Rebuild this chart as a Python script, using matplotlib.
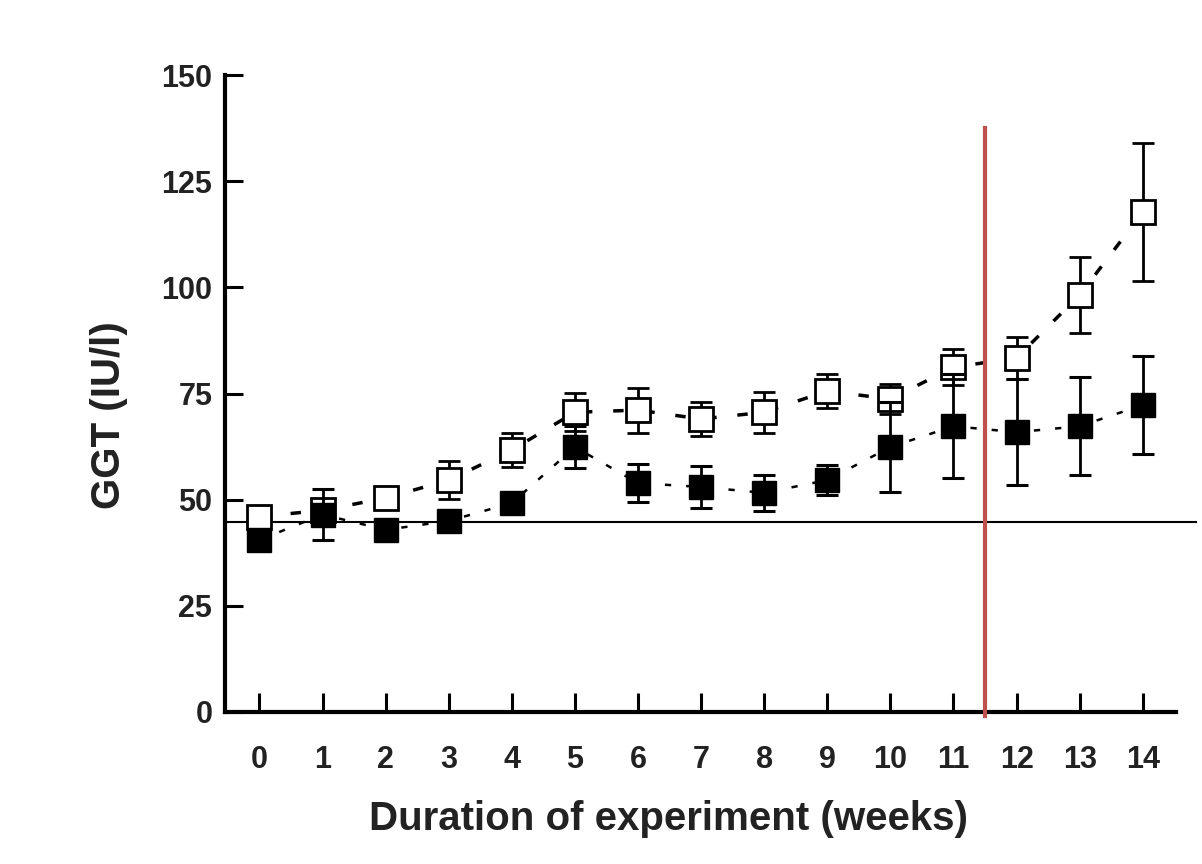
import matplotlib.pyplot as plt

plt.rcParams['font.family'] = ['Liberation Sans', 'DejaVu Sans']

weeks = list(range(15))
open_mean = [46, 47.5, 50.4, 54.6, 61.7, 70.6, 71.1, 69, 70.6, 75.6, 73.7, 81.2, 83.4, 98.2, 117.7]
open_err = [1.5, 2, 2, 4.5, 4, 4.5, 5.3, 4, 4.8, 4, 3.5, 4.3, 5, 9, 16.3]
filled_mean = [40.5, 46.5, 42.9, 45, 49.2, 62.4, 53.9, 53, 51.6, 54.6, 62.4, 67.3, 65.9, 67.3, 72.3]
filled_err = [1.5, 6, 1.5, 2, 2, 5, 4.5, 5, 4.2, 3.5, 10.5, 12.2, 12.5, 11.5, 11.5]
baseline = 44.7
cutoff_week = 11.5

fig = plt.figure(figsize=(12.02, 8.64), dpi=100)
ax = fig.add_axes([0.187, 0.176, 0.791, 0.737])

# reference level
ax.plot([-0.55, 14.85], [baseline, baseline], color='black', lw=1.5, clip_on=False, zorder=1)

ax.errorbar(weeks, open_mean, yerr=open_err, fmt='s', ms=17, mfc='white', mec='black', mew=2,
            ecolor='black', elinewidth=2, capsize=8, capthick=2.2, zorder=3)
ax.plot(weeks, open_mean, color='black', lw=2.5, ls=(0, (3, 6)), zorder=2)

ax.errorbar(weeks, filled_mean, yerr=filled_err, fmt='s', ms=17, mfc='black', mec='black',
            ecolor='black', elinewidth=2, capsize=8, capthick=2.2, zorder=4)
ax.plot(weeks, filled_mean, color='black', lw=1.8, ls=(0, (2.5, 6)), zorder=2)

# cutoff marker
ax.plot([cutoff_week, cutoff_week], [-1, 137.5], color='#c0504d', lw=3, clip_on=False, zorder=5)

ax.set_xlim(-0.55, 14.52)
ax.set_ylim(0, 150)
ax.set_xticks(weeks)
ax.set_yticks([0, 25, 50, 75, 100, 125, 150])
ax.spines['top'].set_visible(False)
ax.spines['right'].set_visible(False)
ax.spines['left'].set_linewidth(3)
ax.spines['bottom'].set_linewidth(3)
ax.tick_params(axis='y', direction='in', length=13, width=2.2, pad=9, labelsize=22)
ax.tick_params(axis='x', direction='in', length=14, width=2.2, pad=24, labelsize=22)
for lab in ax.get_xticklabels() + ax.get_yticklabels():
    lab.set_fontweight('bold')
    lab.set_color('#222222')

ax.set_xlabel('Duration of experiment (weeks)', fontsize=29, fontweight='bold', color='#222222', labelpad=18)
ax.set_ylabel('GGT (IU/l)', fontsize=29, fontweight='bold', color='#222222', labelpad=24)
ax.xaxis.label.set_x(0.467)
ax.yaxis.label.set_y(0.466)

fig.savefig('out.png', dpi=100, facecolor='white')
